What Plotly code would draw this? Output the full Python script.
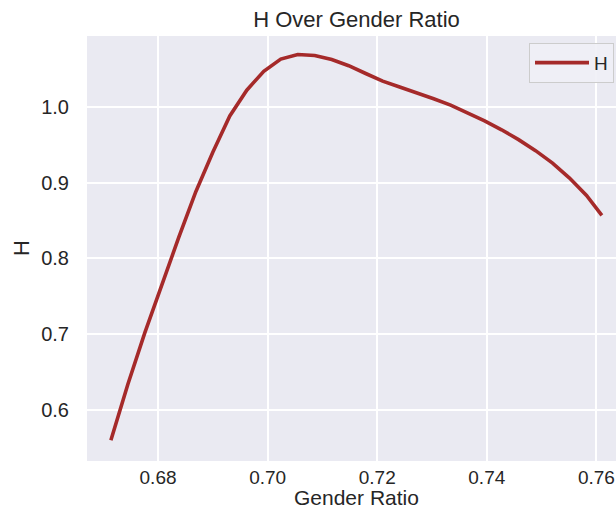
import plotly.graph_objects as go

# Data
gender_ratio = [0.6714, 0.6745, 0.6776, 0.6807, 0.6838, 0.6869, 0.6900, 0.6931,
                0.6962, 0.6993, 0.7024, 0.7055, 0.7086, 0.7117, 0.7148, 0.7179,
                0.7210, 0.7241, 0.7272, 0.7303, 0.7334, 0.7365, 0.7396, 0.7427,
                0.7458, 0.7489, 0.7520, 0.7551, 0.7582, 0.7610]
h_values = [0.560, 0.634, 0.702, 0.766, 0.828, 0.888, 0.940, 0.988,
            1.022, 1.047, 1.063, 1.069, 1.0678, 1.0625, 1.0543, 1.0440,
            1.0340, 1.0261, 1.0186, 1.0107, 1.0022, 0.9925, 0.9816, 0.9697,
            0.9567, 0.9422, 0.9257, 0.9060, 0.8830, 0.8568]

x_ticks = [0.68, 0.70, 0.72, 0.74, 0.76]
x_tick_labels = ["0.68", "0.70", "0.72", "0.74", "0.76"]
y_ticks = [0.6, 0.7, 0.8, 0.9, 1.0]
y_tick_labels = ["0.6", "0.7", "0.8", "0.9", "1.0"]

FONT = "Liberation Sans, Arial, sans-serif"
TXT = "#262626"

fig = go.Figure()
fig.add_trace(go.Scatter(
    x=gender_ratio, y=h_values, mode="lines", name="H",
    line=dict(color="#a52a2a", width=3.6),
))

PLOT_L, PLOT_T, PLOT_B = 87, 36, 461
PLOT_W = 616 - PLOT_L
PLOT_H = PLOT_B - PLOT_T

fig.update_layout(
    width=616, height=508,
    margin=dict(l=PLOT_L, r=0, t=PLOT_T, b=508 - PLOT_B, pad=0),
    paper_bgcolor="white",
    plot_bgcolor="#EAEAF2",
    font=dict(family=FONT, color=TXT),
    title=dict(text="H Over Gender Ratio", x=356.5 / 616, xref="container",
               xanchor="center", y=1 - 19.5 / 508, yref="container",
               yanchor="middle", font=dict(size=22, color=TXT, family=FONT)),
    showlegend=True,
    legend=dict(x=(529 - PLOT_L) / PLOT_W, y=0.984, xanchor="left", yanchor="top",
                bgcolor="rgba(240,240,246,0.9)", bordercolor="#cccccc",
                borderwidth=1, font=dict(size=19, color=TXT, family=FONT),
                itemwidth=54),
    annotations=[
        dict(text="Gender Ratio", xref="paper", yref="paper",
             x=(356.5 - PLOT_L) / PLOT_W, y=(PLOT_B - 497) / PLOT_H,
             xanchor="center", yanchor="middle", showarrow=False,
             font=dict(size=21, color=TXT, family=FONT)),
        dict(text="H", xref="paper", yref="paper",
             x=(22 - PLOT_L) / PLOT_W, y=(PLOT_B - 248) / PLOT_H,
             xanchor="center", yanchor="middle", showarrow=False, textangle=-90,
             font=dict(size=22, color=TXT, family=FONT)),
    ],
)

fig.update_xaxes(
    range=[0.66704, 0.76358], tickvals=x_ticks, ticktext=x_tick_labels,
    showgrid=True, gridcolor="white", gridwidth=1.6, zeroline=False,
    showline=False, ticks="", tickfont=dict(size=19, color=TXT, family=FONT),
    ticklabelstandoff=3, automargin=False,
)
fig.update_yaxes(
    range=[0.5326, 1.0935], tickvals=y_ticks, ticktext=y_tick_labels,
    showgrid=True, gridcolor="white", gridwidth=1.6, zeroline=False,
    showline=False, ticks="", tickfont=dict(size=20, color=TXT, family=FONT),
    ticklabelstandoff=17, automargin=False,
)

fig.write_html(
    "out.html",
    config={"displayModeBar": False},
    post_script="document.body.style.margin='0';document.body.style.overflow='hidden';",
)
